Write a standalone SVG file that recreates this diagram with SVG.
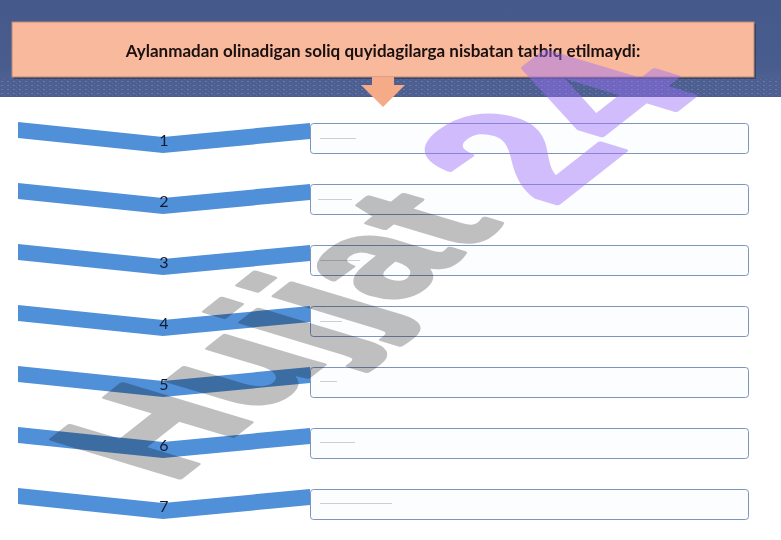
<svg xmlns="http://www.w3.org/2000/svg" width="781" height="540" viewBox="0 0 781 540">
<defs>
<style>
.chev{fill:#4f90d8}
.num{font-family:Lato,"Liberation Sans",sans-serif;font-size:16px;fill:#111a33;text-anchor:middle}
.box{fill:#fbfdff;stroke:#7d95bd;stroke-width:1}
.tiny{stroke:#cfcfcf;stroke-width:1}
.title{font-family:Lato,"Open Sans",sans-serif;font-weight:bold;font-size:17px;fill:#1a1010;text-anchor:middle}
.wm1{font-family:"Liberation Sans",Arial,sans-serif;font-weight:bold;font-size:163px;fill:#bfbfbf;stroke:#bfbfbf;stroke-width:5;stroke-linejoin:round;mix-blend-mode:multiply}
.wm2{font-family:"Liberation Sans",Arial,sans-serif;font-weight:bold;font-size:190px;fill:#9d6ffa;stroke:#9d6ffa;stroke-width:5;stroke-linejoin:round;opacity:0.45}
</style>
<linearGradient id="band" x1="0" y1="0" x2="0" y2="1">
<stop offset="0" stop-color="#45598b"/>
<stop offset="0.7" stop-color="#485c8d"/>
<stop offset="1" stop-color="#56699a"/>
</linearGradient>
<pattern id="tex" width="6" height="4" patternUnits="userSpaceOnUse">
<rect width="6" height="4" fill="#4c5f90"/>
<rect x="1" y="1" width="2" height="1" fill="#6a7ba8"/>
<rect x="4" y="3" width="1" height="1" fill="#5d6f9e"/>
</pattern>
</defs>
<rect width="781" height="540" fill="#ffffff"/>
<g id="banner">
<rect x="0" y="0" width="781" height="97" fill="url(#band)"/>
<rect x="0" y="78" width="781" height="19" fill="url(#tex)"/>
</g>
<g id="title">
<rect x="14" y="24" width="742" height="55" fill="#2e3247" opacity="0.6"/>
<rect x="12" y="22" width="742" height="55" fill="#f8b99c" stroke="#b98a78" stroke-width="1"/>
<text class="title" x="383" y="57">Aylanmadan olinadigan soliq quyidagilarga nisbatan tatbiq etilmaydi:</text>
</g>
<g id="connectors">
<polygon points="372,77 394,77 394,85 405,85 383,107 361,85 372,85" fill="#f6ab88"/>
</g>
<g id="row1">
<polygon class="chev" points="18,122 163,137 310,123 310,139 163,153 18,138"/>
<text class="num" x="164" y="146">1</text>
<rect class="box" x="310.5" y="123.5" width="438" height="30" rx="3"/>
<line class="tiny" x1="320" y1="138.5" x2="356" y2="138.5"/>
</g>
<g id="row2">
<polygon class="chev" points="18,183 163,198 310,184 310,200 163,214 18,199"/>
<text class="num" x="164" y="207">2</text>
<rect class="box" x="310.5" y="184.5" width="438" height="30" rx="3"/>
<line class="tiny" x1="318" y1="199.5" x2="352" y2="199.5"/>
</g>
<g id="row3">
<polygon class="chev" points="18,244 163,259 310,245 310,261 163,275 18,260"/>
<text class="num" x="164" y="268">3</text>
<rect class="box" x="310.5" y="245.5" width="438" height="30" rx="3"/>
<line class="tiny" x1="320" y1="260.5" x2="360" y2="260.5"/>
</g>
<g id="row4">
<polygon class="chev" points="18,305 163,320 310,306 310,322 163,336 18,321"/>
<text class="num" x="164" y="329">4</text>
<rect class="box" x="310.5" y="306.5" width="438" height="30" rx="3"/>
<line class="tiny" x1="320" y1="321.5" x2="342" y2="321.5"/>
</g>
<g id="row5">
<polygon class="chev" points="18,366 163,381 310,367 310,383 163,397 18,382"/>
<text class="num" x="164" y="390">5</text>
<rect class="box" x="310.5" y="367.5" width="438" height="30" rx="3"/>
<line class="tiny" x1="320" y1="381.5" x2="337" y2="381.5"/>
</g>
<g id="row6">
<polygon class="chev" points="18,427 163,442 310,428 310,444 163,458 18,443"/>
<text class="num" x="164" y="451">6</text>
<rect class="box" x="310.5" y="428.5" width="438" height="30" rx="3"/>
<line class="tiny" x1="320" y1="442.5" x2="355" y2="442.5"/>
</g>
<g id="row7">
<polygon class="chev" points="18,488 163,503 310,489 310,505 163,519 18,504"/>
<text class="num" x="164" y="512">7</text>
<rect class="box" x="310.5" y="489.5" width="438" height="30" rx="3"/>
<line class="tiny" x1="320" y1="503.5" x2="392" y2="503.5"/>
</g>
<g id="watermark" transform="matrix(0.733,-0.578,1.137,0.342,172,484)">
<text class="wm1" x="0" y="0">Hujjat</text>
<text class="wm2" x="490" y="19">24</text>
</g>
</svg>
